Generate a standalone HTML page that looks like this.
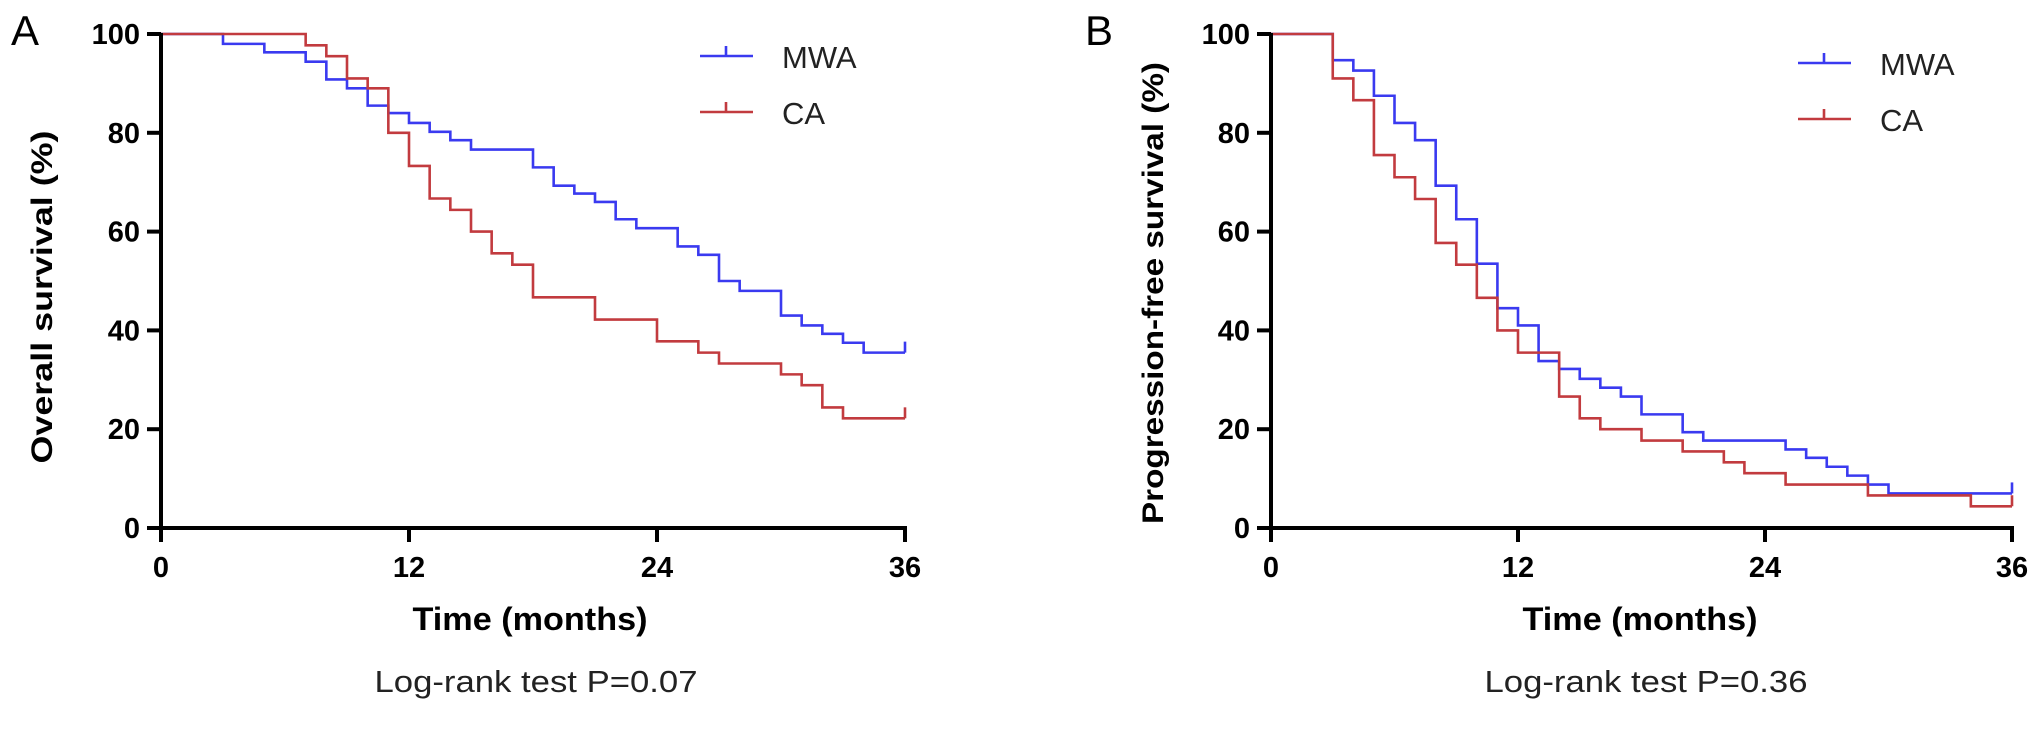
<!DOCTYPE html>
<html><head><meta charset="utf-8"><style>
html,body{margin:0;padding:0;background:#fff;}
svg{display:block;font-family:"Liberation Sans",Arial,sans-serif;}
</style></head><body>
<svg id="fig" width="2031" height="732" viewBox="0 0 2031 732" xmlns="http://www.w3.org/2000/svg"></svg>
<script>
// Panel A data (overall survival)
const xTicks = [0, 12, 24, 36];
const yTicks = [0, 20, 40, 60, 80, 100];
const osMwaT = [0, 3, 5, 7, 8, 9, 10, 11, 12, 13, 14, 15, 18, 19, 20, 21, 22, 23, 25, 26, 27, 28, 30, 31, 32, 33, 34, 36];
const osMwaS = [100, 98, 96.3, 94.4, 90.8, 89, 85.5, 84, 82, 80.2, 78.5, 76.6, 73, 69.3, 67.7, 66, 62.5, 60.7, 57, 55.3, 50, 48, 43, 41, 39.3, 37.5, 35.5, 35.5];
const osCaT = [0, 7, 8, 9, 10, 11, 12, 13, 14, 15, 16, 17, 18, 21, 24, 26, 27, 30, 31, 32, 33, 36];
const osCaS = [100, 97.7, 95.5, 91, 89, 80, 73.3, 66.7, 64.4, 60, 55.6, 53.3, 46.7, 42.2, 37.8, 35.5, 33.3, 31.1, 28.9, 24.4, 22.2, 22.2];
// Panel B data (progression-free survival)
const pfsMwaT = [0, 3, 4, 5, 6, 7, 8, 9, 10, 11, 12, 13, 14, 15, 16, 17, 18, 20, 21, 25, 26, 27, 28, 29, 30, 36];
const pfsMwaS = [100, 94.7, 92.6, 87.5, 82, 78.5, 69.3, 62.5, 53.5, 44.5, 41, 33.8, 32.2, 30.2, 28.4, 26.6, 23, 19.4, 17.7, 15.9, 14.2, 12.4, 10.6, 8.8, 7, 7];
const pfsCaT = [0, 3, 4, 5, 6, 7, 8, 9, 10, 11, 12, 14, 15, 16, 18, 20, 22, 23, 25, 29, 34, 36];
const pfsCaS = [100, 91, 86.6, 75.5, 71, 66.6, 57.7, 53.3, 46.6, 40, 35.5, 26.6, 22.2, 20, 17.7, 15.5, 13.3, 11.1, 8.8, 6.6, 4.4, 4.4];
const pValues = ["0.07", "0.36"];

const NS = "http://www.w3.org/2000/svg";
const svg = document.getElementById('fig');
function el(tag, attrs, parent) {
  const e = document.createElementNS(NS, tag);
  for (const k in attrs) e.setAttribute(k, attrs[k]);
  (parent || svg).appendChild(e);
  return e;
}
const BLUE = "#3a3af0", RED = "#c23b3f";

function panel(cfg) {
  const g = el('g', {});
  
  
  const x0 = cfg.x0, x1 = cfg.x1, yTop = 34, yBot = 528;
  const sx = t => x0 + (t / 36) * (x1 - x0);
  const sy = v => yBot - (v / 100) * (yBot - yTop);

  // series
  function series(T, S, color, nm) {
    let d = "M" + sx(T[0]) + " " + sy(S[0]);
    for (let i = 1; i < T.length; i++) {
      d += " H" + sx(T[i]) + " V" + sy(S[i]);
    }
    const p = el('path', {d: d, fill: 'none', stroke: color, 'stroke-width': 2.6}, g);
    
    
    const last = T.length - 1;
    const c = el('line', {x1: sx(T[last]), x2: sx(T[last]), y1: sy(S[last]), y2: sy(S[last]) - 11, stroke: color, 'stroke-width': 2.6}, g);
    
    
  }
  series(cfg.mT, cfg.mS, BLUE, 'mwa-curve');
  series(cfg.cT, cfg.cS, RED, 'ca-curve');

  // axes
  const ya = el('line', {x1: x0, x2: x0, y1: yTop - 1, y2: yBot + 14, stroke: '#000', 'stroke-width': 4}, g);
  
  
  const xa = el('line', {x1: x0 - 14, x2: x1 + 2, y1: yBot, y2: yBot, stroke: '#000', 'stroke-width': 4}, g);
  
  
  yTicks.forEach(v => {
    el('line', {x1: x0 - 14, x2: x0, y1: sy(v), y2: sy(v), stroke: '#000', 'stroke-width': 4}, g);
    const t = el('text', {x: x0 - 21, y: sy(v) + 10, 'text-anchor': 'end', 'font-size': 29, 'font-weight': 'bold'}, g);
    t.textContent = v;
    
    
  });
  xTicks.forEach(v => {
    el('line', {x1: sx(v), x2: sx(v), y1: yBot, y2: yBot + 14, stroke: '#000', 'stroke-width': 4}, g);
    const t = el('text', {x: sx(v), y: 577, 'text-anchor': 'middle', 'font-size': 29, 'font-weight': 'bold'}, g);
    t.textContent = v;
    
    
  });
  const xt = el('text', {x: cfg.xtc, y: 630, 'text-anchor': 'middle', 'font-size': 32, 'font-weight': 'bold', textLength: 235, lengthAdjust: 'spacingAndGlyphs'}, g);
  xt.textContent = 'Time (months)';
  
  
  const yt = el('text', {x: 0, y: 0, 'text-anchor': 'middle', 'font-size': 30, 'font-weight': 'bold', textLength: cfg.ytl, lengthAdjust: 'spacingAndGlyphs', transform: `translate(${cfg.ytx},${cfg.yty}) rotate(-90)`}, g);
  yt.textContent = cfg.ytitle;
  
  
  const lr = el('text', {x: cfg.xtc + 6, y: 692, 'text-anchor': 'middle', 'font-size': 31, textLength: 323, lengthAdjust: 'spacingAndGlyphs', fill: '#222'}, g);
  lr.textContent = 'Log-rank test P=' + cfg.p;
  
  
  const pl = el('text', {x: cfg.plx, y: 45, 'font-size': 42}, g);
  pl.textContent = cfg.label;
  
  

  // legend
  [[BLUE, 'MWA', 0], [RED, 'CA', 56]].forEach(([c, txt, dy]) => {
    const lg = el('g', {}, g);
    
    
    const ly = cfg.legY + dy;
    el('line', {x1: cfg.legX, x2: cfg.legX + 53, y1: ly, y2: ly, stroke: c, 'stroke-width': 2.6}, lg);
    el('line', {x1: cfg.legX + 26, x2: cfg.legX + 26, y1: ly, y2: ly - 10, stroke: c, 'stroke-width': 2.6}, lg);
    const t = el('text', {x: cfg.legX + 82, y: ly + 12, 'font-size': 31, fill: '#222'}, lg);
    t.textContent = txt;
  });
}

panel({name: 'panel-a-overall-survival', x0: 161, x1: 905, mT: osMwaT, mS: osMwaS, cT: osCaT, cS: osCaS,
  xtc: 530, ytitle: 'Overall survival (%)', ytx: 52, yty: 297, ytl: 333, p: pValues[0], label: 'A', plx: 11, legX: 700, legY: 56});
panel({name: 'panel-b-progression-free-survival', x0: 1271, x1: 2012, mT: pfsMwaT, mS: pfsMwaS, cT: pfsCaT, cS: pfsCaS,
  xtc: 1640, ytitle: 'Progression-free survival (%)', ytx: 1163, yty: 293, ytl: 462, p: pValues[1], label: 'B', plx: 1085, legX: 1798, legY: 63});
</script>
</body></html>
